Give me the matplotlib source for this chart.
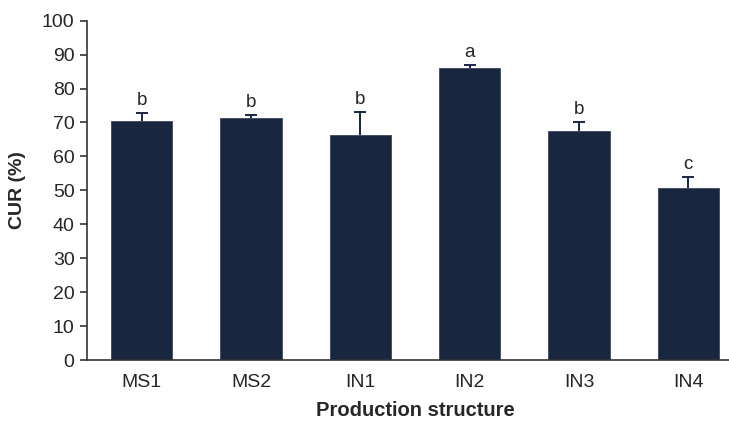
import matplotlib
matplotlib.use("Agg")
import matplotlib.pyplot as plt
import numpy as np

plt.rcParams['font.family'] = ['Liberation Sans', 'DejaVu Sans']

categories = ["MS1", "MS2", "IN1", "IN2", "IN3", "IN4"]
cur_mean = [70.4, 71.3, 66.2, 86.0, 67.5, 50.8]
cur_err = [2.3, 0.9, 7.0, 0.9, 2.7, 3.2]
letters = ["b", "b", "b", "a", "b", "c"]

bar_color = "#182640"
text_color = "#262626"

fig = plt.figure(figsize=(7.29, 4.23), dpi=100)
ax = fig.add_axes([87 / 729, 1 - 360 / 423, (743 - 87) / 729, (360 - 20.7) / 423])

x = np.arange(len(categories))
mean = np.array(cur_mean)
err = np.array(cur_err)

ax.bar(x, mean, width=0.56, color=bar_color, edgecolor="#3a4660", linewidth=0.6,
       zorder=2)
# upper error bars only: stem from the bar top plus a cap
ax.vlines(x, mean, mean + err, color=bar_color, linewidth=1.4, zorder=3)
ax.plot(x, mean + err, linestyle="none", marker="_", markersize=8,
        markeredgewidth=1.4, color=bar_color, zorder=3)

for xi, m, e, lab in zip(x, mean, err, letters):
    ax.text(xi, m + e + 1.2, lab, ha="center", va="bottom", fontsize=13.5,
            color=text_color)

ax.set_xlim(-0.5, len(categories) - 0.5)
ax.set_ylim(0, 100)
ax.set_yticks(np.arange(0, 101, 10))
ax.set_xticks(x)
ax.set_xticklabels(categories)

for s in ["top", "right"]:
    ax.spines[s].set_visible(False)
for s in ["left", "bottom"]:
    ax.spines[s].set_color("#333333")
    ax.spines[s].set_linewidth(1.2)

ax.tick_params(axis="y", direction="out", length=5, width=1.2, color="#333333",
               labelsize=14, labelcolor=text_color, pad=4)
ax.tick_params(axis="x", length=0, labelsize=14, labelcolor=text_color, pad=10)

ax.set_ylabel("CUR (%)", fontsize=14, fontweight="bold", color=text_color)
ax.yaxis.set_label_coords(-(87 - 18) / (743 - 87), 0.5)
ax.set_xlabel("Production structure", fontsize=14.5, fontweight="bold",
              color=text_color)
ax.xaxis.set_label_coords((415 - 87) / (743 - 87), -(410 - 360) / (360 - 20.7))
ax.xaxis.label.set_va("center")
ax.yaxis.label.set_va("center")

fig.savefig("out.png", dpi=100)
